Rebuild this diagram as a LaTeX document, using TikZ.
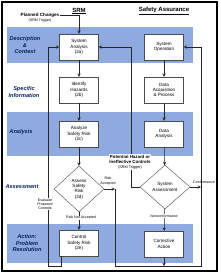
\documentclass[tikz,border=0pt]{standalone}
\usepackage{fontspec}
\setmainfont{Liberation Sans}
\usetikzlibrary{shapes.geometric}
\definecolor{bandblue}{RGB}{142,170,222}
\definecolor{labelblue}{RGB}{10,30,90}

\begin{document}
\begin{tikzpicture}[x=1pt, y=-1pt, >=stealth,
    stepbox/.style={draw=black!70, fill=white, minimum width=39pt, minimum height=26pt,
        align=center, inner sep=0pt, font=\fontsize{4.6}{5.4}\selectfont},
    decision/.style={diamond, draw=black!70, fill=white, align=center, inner sep=0pt,
        minimum width=50pt, minimum height=46pt, font=\fontsize{4.6}{5.4}\selectfont},
    phase/.style={align=center, text=labelblue, font=\fontsize{5.6}{6.2}\selectfont\bfseries\itshape},
    note/.style={align=center, fill=white, inner sep=0.4pt, font=\fontsize{3.6}{4.2}\selectfont},
    flow/.style={->, black!85, line width=0.5pt}]
    \useasboundingbox (0,0) rectangle (220,276);
    % Frame
    \draw[line width=1.6pt] (2,2) rectangle (217,271);

    % Blue bands
    \fill[bandblue] (7,27) rectangle (193,63);
    \fill[bandblue] (7,112) rectangle (193,156);
    \fill[bandblue] (7,224) rectangle (193,263);

    % Headings
    \node[font=\fontsize{6}{7}\selectfont\bfseries] (srmhead) at (79,11) {\underline{SRM}};
    \node[font=\fontsize{6}{7}\selectfont\bfseries] (sahead) at (164,11) {\underline{Safety Assurance}};

    % Phase labels
    \node[phase] (descr) at (25,45) {Description\\\&\\Context};
    \node[phase] (specific) at (24,92) {Specific\\Information};
    \node[phase] (analysis) at (21,132) {Analysis};
    \node[phase] (assessment) at (22,187) {Assessment};
    \node[phase] (action) at (27,243) {Action:\\Problem\\Resolution};

    % SRM column
    \node[stepbox] (sysan) at (79,47) {System\\Analysis\\(2a)};
    \node[stepbox] (idhaz) at (79,90) {Identify\\Hazards\\(2b)};
    \node[stepbox] (analyze) at (79,134) {Analyze\\Safety Risk\\(2c)};
    \node[decision] (assess) at (79,189) {Assess\\Safety\\Risk\\(2d)};
    \node[stepbox] (ctrl) at (79,243) {Control\\Safety Risk\\(2e)};

    % Safety Assurance column
    \node[stepbox] (sysop) at (164,47) {System\\Operation};
    \node[stepbox] (dataacq) at (164,90) {Data\\Acquisition\\\& Process};
    \node[stepbox] (dataan) at (164,134) {Data\\Analysis};
    \node[decision, minimum height=44pt] (sysass) at (165,187) {System\\Assessment};
    \node[stepbox] (corr) at (164,244) {Corrective\\Action};

    % Triggers
    \node[font=\fontsize{4.6}{5.4}\selectfont\bfseries, inner sep=0.5pt] (planned) at (40,15) {Planned Changes};
    \node[font=\fontsize{3.6}{4.2}\selectfont, inner sep=0pt] (plannedsub) at (40,21) {(SRM Trigger)};

    % Rails
    \coordinate (evalrail) at (48,266);
    \coordinate (hazrail) at (131,187);
    \coordinate (accrail) at (115,189);
    \coordinate (bottomrail) at (201,266);

    % Main flow
    \draw[flow] (planned.east) -| (sysan.north);
    \draw[flow] (sysan) -- (idhaz);
    \draw[flow] (idhaz) -- (analyze);
    \draw[flow] (analyze) -- (assess);
    \draw[flow] (assess) -- (ctrl);
    \draw[flow] (sysop) -- (dataacq);
    \draw[flow] (dataacq) -- (dataan);
    \draw[flow] (dataan) -- (sysass);
    \draw[flow] (sysass) -- (corr);

    % Feedback loops
    \draw[flow] ([xshift=1.5pt]ctrl.south west) |- (evalrail) |- (sysan.west);
    \draw[flow] (sysass.west) -- (hazrail) |- (sysan.east);
    \draw[flow] (assess.east) -- (accrail);
    \draw[flow] (accrail) |- (bottomrail) |- (sysop.east);
    \draw[flow] (sysass.east) -- (sysass.east -| bottomrail);
    \draw[flow] (corr.south) -- (corr.south |- bottomrail);

    % Loop labels
    \node[note] (evallabel) at (45,204) {Evaluate\\Proposed\\Controls};
    \node[note] (notacc) at (81,218) {Risk Not Accepted};
    \node[note] (acclabel) at (108,181) {Risk\\Accepted};
    \node[note] (nonconf) at (164,216) {Nonconformance};
    \node[note, fill=none] (conf) at (204,182) {Conformance};
    \node[align=center, fill=white, inner sep=0.5pt, font=\fontsize{4.4}{5.2}\selectfont\bfseries] (hazlabel) at (130,162)
        {Potential Hazard or\\Ineffective Controls\\{\mdseries\fontsize{3.8}{4.4}\selectfont (SRM Trigger)}};
\end{tikzpicture}
\end{document}
